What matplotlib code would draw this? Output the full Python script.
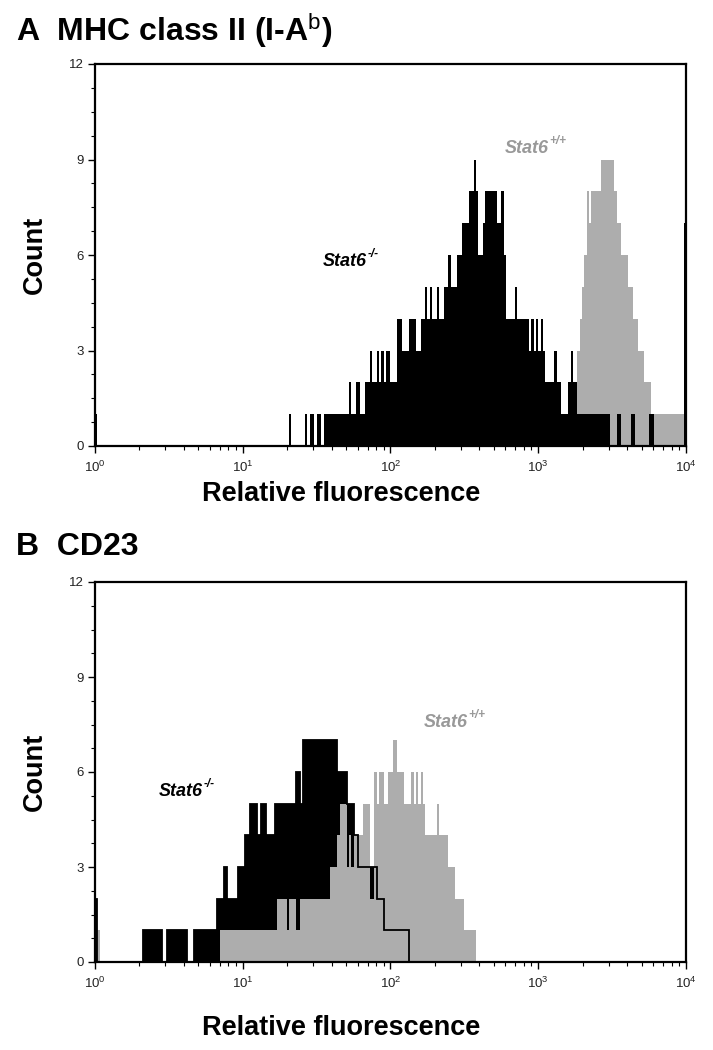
import numpy as np
import matplotlib
matplotlib.use("Agg")
import matplotlib.pyplot as plt
from matplotlib.ticker import MultipleLocator, LogLocator, NullFormatter

plt.rcParams['font.family'] = ['Liberation Sans', 'DejaVu Sans']
plt.rcParams['mathtext.fontset'] = 'custom'
plt.rcParams['mathtext.rm'] = 'Liberation Sans'
plt.rcParams['mathtext.it'] = 'Liberation Sans:italic'
plt.rcParams['mathtext.bf'] = 'Liberation Sans:bold'

# ---- data: 256 log channels over 4 decades, counts per channel ----
N_CHANNELS = 256
DECADES = 4

# Panel A (MHC class II), Stat6-/- (black)
a_ko_segments = [
    (0, [1]),
    (84, [1, 0, 0, 0, 0, 0, 0, 1, 0, 1, 1, 0, 1, 1, 0, 1]),
    (100, [1, 1, 1, 1, 1, 1, 1, 1, 1, 1]),
    (110, [2, 1, 1, 2, 2, 1, 1, 2, 2, 3, 2, 2, 3, 2, 3, 2, 3, 3, 2, 2, 2, 4, 4]),
    (133, [3, 3, 3, 4, 4, 4, 3, 3, 4, 4]),
    (143, [5, 4, 5, 4, 4, 5, 4, 4, 5]),
    (152, [5, 6, 5, 5, 5, 6, 6, 7, 7, 7, 8, 8, 9, 8]),
    (166, [6, 6, 7, 8, 8, 8, 8, 8, 7, 7, 8, 6]),
    (178, [4, 4, 4, 4, 5, 4, 4, 4, 4, 4]),
    (188, [3, 4, 3, 4, 3, 4, 3, 2, 2, 2, 2, 3, 2, 2, 1, 1, 1, 2, 3, 2, 2, 1]),
    (210, [1, 1, 1, 1, 1, 1, 1, 1, 1, 1, 1, 1, 1]),
    (226, [1, 1]),
    (232, [1, 1]),
    (240, [1, 1]),
    (255, [7]),
]
# Panel A, Stat6+/+ (grey)
a_wt_segments = [
    (205, [1, 2, 2, 2, 3, 4, 5, 6, 8, 7, 8, 8, 8, 8, 9, 9, 9, 9, 9, 9,
           8, 7, 7, 6, 6, 6, 5, 5, 4, 4, 3, 3, 3, 2, 2, 2,
           1, 1, 1, 1, 1, 1, 1, 1, 1, 1, 1, 1, 1, 1]),
]
# Panel B (CD23), Stat6-/- (black)
b_ko_segments = [
    (0, [2]),
    (21, [1, 1, 1, 1, 1, 1, 1, 1, 0, 0, 1, 1, 1, 1, 1, 1, 1, 1, 1, 0, 0, 0,
          1, 1, 1, 1, 1, 1, 1, 1, 1, 1]),
    (53, [2, 2, 2, 3, 2, 2, 2, 2, 2, 3, 3, 3, 4, 4, 5, 5, 5, 4, 4, 5, 5, 4, 4, 4, 4,
          5, 5, 5, 5, 5, 5, 5, 5, 5, 6, 6, 5]),
    (90, [7, 7, 7, 7, 7, 7, 7, 7, 7, 7, 7, 7, 7, 7, 7]),
    (105, [6, 6, 6, 6, 5, 5, 5, 4, 4, 3, 3, 3, 3, 3, 3, 3, 3, 2, 2, 2,
           1, 1, 1, 1, 1, 1, 1, 1, 1, 1, 1]),
]
# Panel B, Stat6+/+ (grey)
b_wt_segments = [
    (1, [1]),
    (54, [1, 1, 1, 1, 1, 1, 1, 1, 1, 1, 1, 1, 1, 1, 1, 1, 1, 1, 1, 1, 1, 1, 1, 1, 1]),
    (79, [2, 2, 2, 2, 1, 2, 2, 2, 1, 1, 2, 2, 2, 2, 2, 2, 2, 2, 2, 2, 2, 2, 2]),
    (102, [3, 3, 3, 4, 5, 5, 5, 3, 4, 3, 4, 4, 4, 4, 5, 5, 5, 2, 2, 6, 5, 6, 6, 5, 5,
           6, 6, 7, 7, 6, 6, 6, 5, 5, 5, 6, 5, 6, 5, 6, 5, 4, 4, 4, 4, 4, 5, 4, 4, 4, 4,
           3, 3, 3, 2, 2, 2, 2, 1, 1, 1, 1, 1]),
]

y_ticks = [0, 3, 6, 9, 12]
x_ticks = [1, 10, 100, 1000, 10000]
x_tick_labels = [r'10$^{0}$', r'10$^{1}$', r'10$^{2}$', r'10$^{3}$', r'10$^{4}$']
panel_titles = [('A', 'MHC class II (I-A$^{\\mathrm{b}}$)'), ('B', 'CD23')]
ko_label = ('Stat6', '-/-')
wt_label = ('Stat6', '+/+')


def build(segments):
    counts = np.zeros(N_CHANNELS)
    for start, vals in segments:
        counts[start:start + len(vals)] = vals
    return counts


edges = 10.0 ** (np.arange(N_CHANNELS + 1) * DECADES / N_CHANNELS)

GREY = '#adadad'
fig = plt.figure(figsize=(7.13, 10.5), dpi=100)

axA = fig.add_axes([95 / 713, 1 - 446 / 1050, 591 / 713, 382 / 1050])
axB = fig.add_axes([95 / 713, 1 - 962 / 1050, 591 / 713, 380 / 1050])

# Panel A: grey behind, black in front
axA.stairs(build(a_wt_segments), edges, fill=True, color=GREY, lw=0)
axA.stairs(build(a_ko_segments), edges, fill=True, color='black', lw=0)

# Panel B: black fill, grey fill in front, black outline on top
b_ko = build(b_ko_segments)
axB.stairs(b_ko, edges, fill=True, color='black', lw=0)
axB.stairs(build(b_wt_segments), edges, fill=True, color=GREY, lw=0)
axB.stairs(b_ko, edges, fill=False, color='black', lw=1.3)

for ax in (axA, axB):
    ax.set_xscale('log')
    ax.set_xlim(1, 1e4)
    ax.set_ylim(0, 12)
    ax.set_yticks(y_ticks)
    ax.yaxis.set_minor_locator(MultipleLocator(0.75))
    ax.set_xticks(x_ticks)
    ax.set_xticklabels(x_tick_labels)
    ax.xaxis.set_minor_locator(LogLocator(base=10, subs=np.arange(2, 10)))
    ax.xaxis.set_minor_formatter(NullFormatter())
    for s in ax.spines.values():
        s.set_linewidth(1.6)
    ax.tick_params(which='major', length=5, width=1.0, labelsize=9.5,
                   labelcolor='#222222', direction='out')
    ax.tick_params(which='minor', length=3, width=0.8, direction='out')
    ax.tick_params(axis='x', pad=5)
    ax.tick_params(axis='y', pad=3)
    ax.set_ylabel('Count', fontsize=19.5, fontweight='bold', labelpad=15)

axA.set_xlabel('Relative fluorescence', fontsize=19.5, fontweight='bold', labelpad=4)
axB.set_xlabel('Relative fluorescence', fontsize=19.5, fontweight='bold', labelpad=17)
for ax in (axA, axB):
    ax.xaxis.label.set_x(0.416)

fig.text(16 / 713, 1 - 31 / 1050, panel_titles[0][0] + '  ' + panel_titles[0][1],
         fontsize=23, fontweight='bold', va='center', ha='left')
fig.text(16 / 713, 1 - 547 / 1050, panel_titles[1][0] + '  ' + panel_titles[1][1],
         fontsize=23, fontweight='bold', va='center', ha='left')

fig.canvas.draw()
renderer = fig.canvas.get_renderer()


def geno_label(ax, x, y, parts, color):
    t = ax.text(x, y, parts[0], fontsize=13, fontweight='bold', style='italic',
                color=color, va='center', ha='left')
    bb = t.get_window_extent(renderer=renderer)
    inv = ax.transData.inverted()
    xs, ys = inv.transform((bb.x1 + 0.5, bb.y0 + bb.height * 0.6))
    ax.text(xs, ys, parts[1], fontsize=8.5, fontweight='bold', style='italic',
            color=color, va='bottom', ha='left')


geno_label(axA, 35, 5.8, ko_label, 'black')
geno_label(axA, 596, 9.33, wt_label, '#999999')
geno_label(axB, 2.7, 5.37, ko_label, 'black')
geno_label(axB, 168, 7.55, wt_label, '#999999')

fig.savefig('out.png', dpi=100)
